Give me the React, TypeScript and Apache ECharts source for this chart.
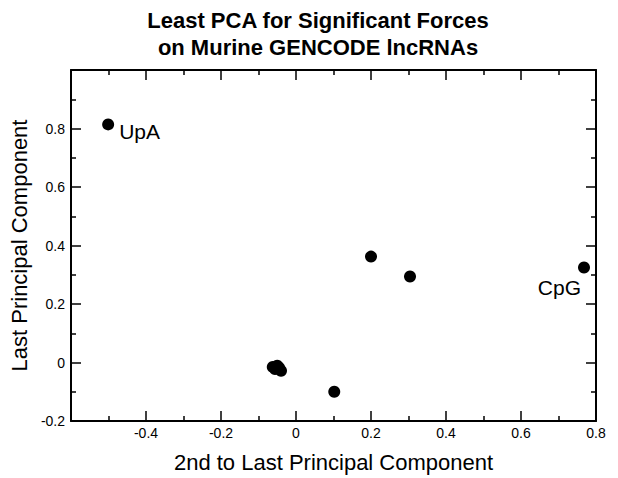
import React, { useEffect, useRef } from "react";
import * as echarts from "echarts";

const titleLines = ["Least PCA for Significant Forces", "on Murine GENCODE lncRNAs"];
const xName = "2nd to Last Principal Component";
const yName = "Last Principal Component";
const pointNames = ["UpA", "CpG", "", "", "", "", "", "", "", ""];
const xValues = [-0.501, 0.768, 0.2, 0.304, 0.102, -0.062, -0.05, -0.045, -0.04, -0.056];
const yValues = [0.814, 0.325, 0.362, 0.294, -0.1, -0.015, -0.011, -0.018, -0.028, -0.022];

const FONT = "'Liberation Sans', Arial, Helvetica, sans-serif";

export default function App() {
  const ref = useRef<HTMLDivElement>(null);
  useEffect(() => {
    document.body.style.margin = "0";
    const chart = echarts.init(ref.current!, undefined, { renderer: "svg" });
    const data = xValues.map((x, i) => {
      const item: any = { value: [x, yValues[i]], name: pointNames[i] };
      if (pointNames[i] === "UpA") {
        item.label = { show: true, position: "right", distance: 5, offset: [0, 7], formatter: "{b}" };
      } else if (pointNames[i] === "CpG") {
        item.label = { show: true, position: "left", distance: 5, offset: [8, 20], formatter: "{b}" };
      }
      return item;
    });
    const lineStyle = { color: "#000", width: 2 };
    const tickStyle = { color: "#000", width: 1.5 };
    const baseX = {
      type: "value",
      min: -0.6,
      max: 0.8,
      interval: 0.2,
      axisLine: { show: true, onZero: false, lineStyle },
      axisTick: { show: true, inside: true, length: 10, lineStyle: tickStyle },
      minorTick: { show: true, splitNumber: 2, length: 5, lineStyle: tickStyle },
      splitLine: { show: false },
      minorSplitLine: { show: false },
    };
    const baseY = {
      type: "value",
      min: -0.2,
      max: 1.0,
      interval: 0.2,
      axisLine: { show: true, onZero: false, lineStyle },
      axisTick: { show: true, inside: true, length: 10, lineStyle: tickStyle },
      minorTick: { show: true, splitNumber: 2, length: 5, lineStyle: tickStyle },
      splitLine: { show: false },
      minorSplitLine: { show: false },
    };
    const fmt = (v: number) => {
      const r = Math.round(v * 10) / 10;
      return r === 0 ? "0" : String(r);
    };
    chart.setOption({
      animation: false,
      textStyle: { fontFamily: FONT, color: "#000" },
      grid: { left: 71, right: 22, top: 70, bottom: 45, containLabel: false },
      graphic: [
        {
          type: "text",
          left: 318 - 190,
          top: 7,
          style: {
            text: titleLines.join("\n"),
            font: `bold 22px ${FONT}`,
            fill: "#000",
            textAlign: "center",
            lineHeight: 27,
            width: 380,
          },
        },
      ],
      xAxis: [
        {
          ...baseX,
          position: "bottom",
          name: xName,
          nameLocation: "middle",
          nameGap: 30,
          nameTextStyle: { fontSize: 22, color: "#000", fontFamily: FONT },
          axisLabel: {
            show: true,
            fontSize: 14,
            color: "#000",
            margin: 5,
            fontFamily: FONT,
            formatter: (v: number) => (Math.abs(v + 0.6) < 1e-6 ? "" : fmt(v)),
          },
        },
        { ...baseX, position: "top", axisLabel: { show: false } },
      ],
      yAxis: [
        {
          ...baseY,
          position: "left",
          name: yName,
          nameLocation: "middle",
          nameGap: 37,
          nameRotate: 90,
          nameTextStyle: { fontSize: 22, color: "#000", fontFamily: FONT },
          axisLabel: {
            show: true,
            fontSize: 14,
            color: "#000",
            margin: 6,
            fontFamily: FONT,
            formatter: (v: number) => (Math.abs(v - 1.0) < 1e-6 ? "" : fmt(v)),
          },
        },
        { ...baseY, position: "right", axisLabel: { show: false } },
      ],
      series: [
        {
          type: "scatter",
          xAxisIndex: 0,
          yAxisIndex: 0,
          symbol: "circle",
          symbolSize: 12,
          itemStyle: { color: "#000", opacity: 1 },
          label: { show: false, color: "#000", fontSize: 21, fontFamily: FONT },
          emphasis: { disabled: true },
          data,
        },
      ],
    });
    return () => chart.dispose();
  }, []);
  return <div ref={ref} style={{ width: 618, height: 478 }} />;
}
